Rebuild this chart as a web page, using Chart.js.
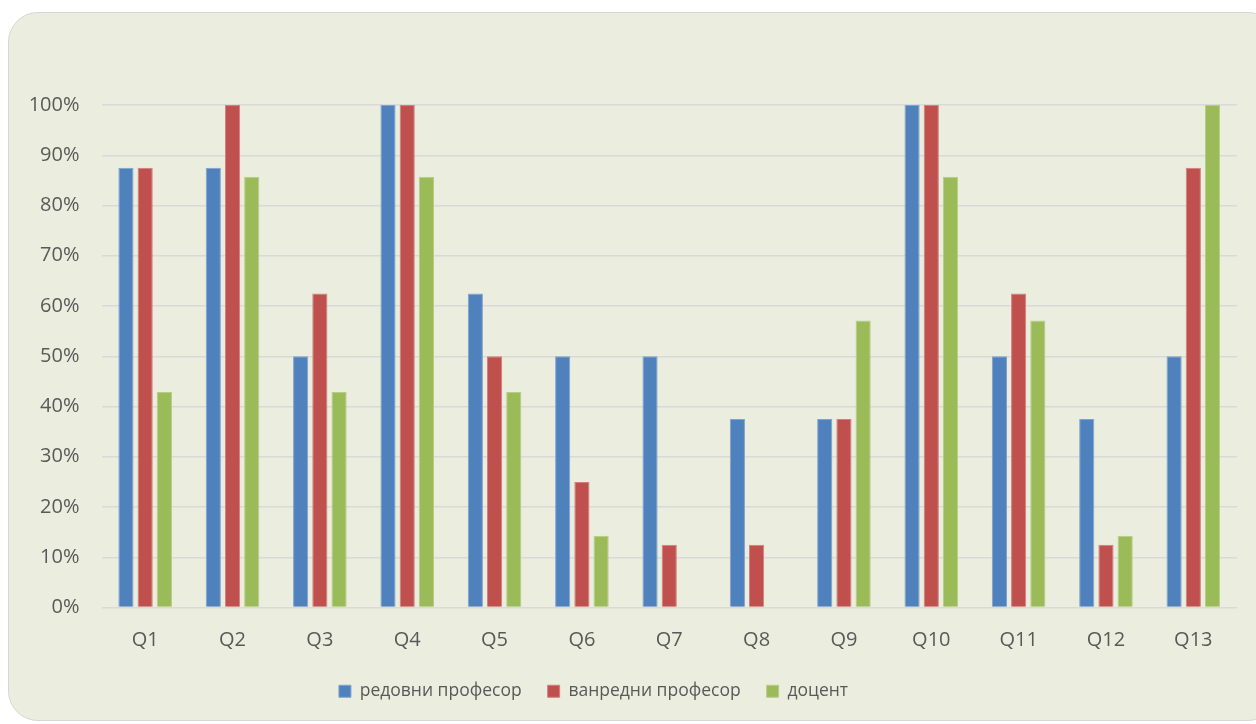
<!DOCTYPE html>
<html>
<head>
<meta charset="utf-8">
<script src="https://cdn.jsdelivr.net/npm/chart.js@4/dist/chart.umd.min.js"></script>
<style>
  html, body { margin: 0; padding: 0; background: #ffffff; width: 1256px; height: 724px; overflow: hidden; }
  #card { position: absolute; left: 8px; top: 12px; width: 1270px; height: 709px; background: #EBEEDF; border: 1.5px solid #D6D6D6; border-radius: 30px; box-sizing: border-box; }
  #wrap { position: absolute; left: 0; top: 0; width: 1256px; height: 724px; }
</style>
</head>
<body>
<div id="card"></div>
<div id="wrap"><canvas id="c" width="1256" height="724"></canvas></div>
<script>
const categories = ["Q1","Q2","Q3","Q4","Q5","Q6","Q7","Q8","Q9","Q10","Q11","Q12","Q13"];
const seriesNames = ["редовни професор", "ванредни професор", "доцент"];
const redovni = [87.5, 87.5, 50, 100, 62.5, 50, 50, 37.5, 37.5, 100, 50, 37.5, 50];
const vanredni = [87.5, 100, 62.5, 100, 50, 25, 12.5, 12.5, 37.5, 100, 62.5, 12.5, 87.5];
const docent = [42.9, 85.7, 42.9, 85.7, 42.9, 14.3, 0, 0, 57.1, 85.7, 57.1, 14.3, 100];
const yTicks = [0,10,20,30,40,50,60,70,80,90,100];

const colors = ["#4F81BD", "#C0504D", "#9BBB59"];
const borders = ["#7FA2CF", "#D27E7C", "#B5CD86"];
const fontFam = "'Open Sans', 'Noto Sans', sans-serif";
const txt = "#595959";

const ds = [redovni, vanredni, docent].map((d, i) => ({
  label: seriesNames[i],
  data: d,
  backgroundColor: colors[i],
  borderColor: borders[i],
  borderWidth: 1,
  categoryPercentage: 0.66,
  barPercentage: 0.79
}));

const legendShift = {
  id: 'legendShift',
  afterLayout(chart) {
    if (chart.legend) { chart.legend.left -= 25; chart.legend.right -= 25; }
  }
};

new Chart(document.getElementById('c'), {
  type: 'bar',
  data: { labels: categories, datasets: ds },
  plugins: [legendShift],
  options: {
    responsive: false,
    animation: false,
    devicePixelRatio: 1,
    layout: { padding: { left: 0, right: 19, top: 105, bottom: 14 } },
    plugins: {
      tooltip: { enabled: false },
      legend: {
        position: 'bottom',
        labels: {
          color: txt,
          font: { family: fontFam, size: 17.5 },
          boxWidth: 12,
          boxHeight: 12,
          padding: 26,
          useBorderRadius: false
        }
      }
    },
    scales: {
      x: {
        grid: { display: false, drawTicks: false },
        border: { display: false },
        ticks: { color: txt, font: { family: fontFam, size: 20 }, padding: 21 },
        afterFit: (s) => { s.height = 49; }
      },
      y: {
        min: 0, max: 100,
        afterBuildTicks: (s) => { s.ticks = yTicks.map(v => ({ value: v })); },
        grid: { color: "#D9D9D9", lineWidth: 1.5, drawTicks: false },
        border: { display: false },
        ticks: { color: txt, font: { family: fontFam, size: 20 }, padding: 22, callback: v => v + "%" },
        afterFit: (s) => { s.width = 101.5; }
      }
    }
  }
});
</script>
</body>
</html>
